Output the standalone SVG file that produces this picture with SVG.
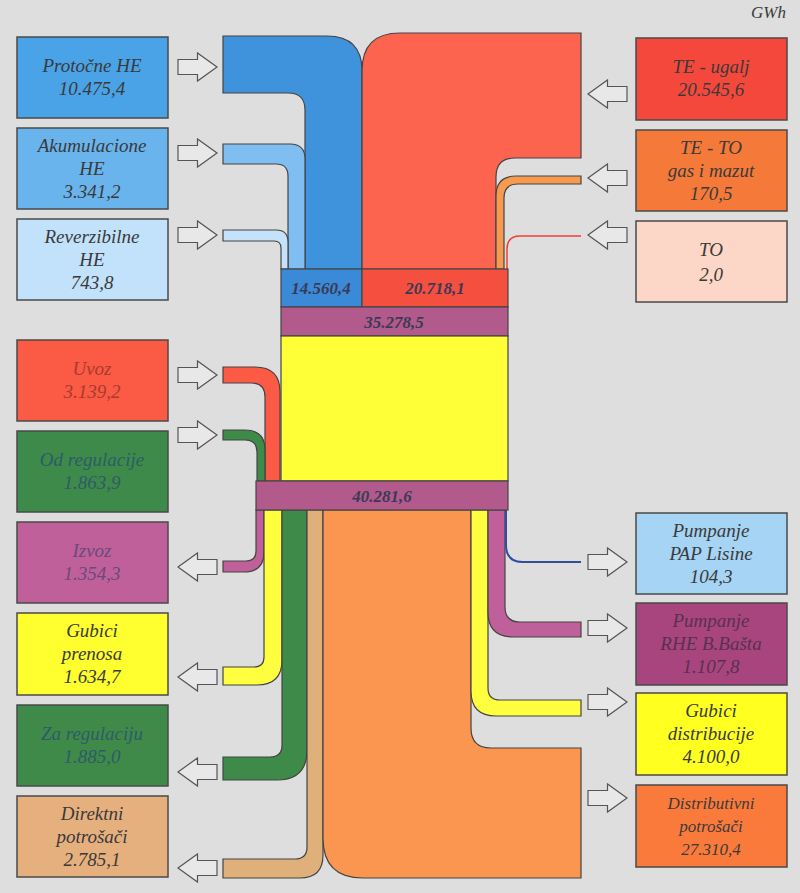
<svg xmlns="http://www.w3.org/2000/svg" width="800" height="893" viewBox="0 0 800 893">
<style>
.bx{stroke:#4a4a4a;stroke-width:1.5}
.fl{stroke:#444;stroke-width:1.2}
.t{font-family:'Liberation Serif','Times New Roman','DejaVu Serif',serif;font-style:italic;font-size:19px;fill:#3a3a3a;text-anchor:middle}
.c{font-family:'Liberation Serif','Times New Roman','DejaVu Serif',serif;font-style:italic;font-weight:bold;font-size:17px;fill:#3a3a55;text-anchor:middle}
.ar{fill:#e8e8e8;stroke:#555;stroke-width:1.2}
</style>
<defs>
<polygon id="arr" class="ar" points="-19.5,-7.5 0,-7.5 0,-14 19.5,0 0,14 0,7.5 -19.5,7.5"/>
</defs>
<rect width="800" height="893" fill="#dedede"/>
<text class="t" x="786" y="18" style="text-anchor:end;font-size:17px">GWh</text>

<g id="connectors">
<path class="fl" fill="#3f93dc" d="M223,36 H327 Q362,36 362,71 V269 H305 V110 Q305,93 288,93 H223 Z"/>
<path class="fl" fill="#80bdf0" d="M223,144 H290 Q305,144 305,159 V269 H288 V176 Q288,164 276,164 H223 Z"/>
<path class="fl" fill="#c5e2fa" d="M223,230 H276 Q288,230 288,242 V269 H281 V248 Q281,241 274,241 H223 Z"/>
<path class="fl" fill="#fc6450" d="M362,269 V71 Q362,33 400,33 H581 V158 H515 Q496,158 496,177 V269 Z"/>
<path class="fl" fill="#f59a50" d="M581,176 H516 Q496,176 496,196 V269 H504 V198 Q504,184 518,184 H581 Z"/>
<path fill="none" stroke="#f04030" stroke-width="1.5" d="M581,236 H520 Q507,236 507,249 V269"/>
<path class="fl" fill="#fc5a44" d="M223,367 H255 Q280,367 280,392 V481 H265 V397 Q265,383 251,383 H223 Z"/>
<path class="fl" fill="#3e8a48" d="M223,430 H245 Q265,430 265,450 V481 H257 V452 Q257,440 245,440 H223 Z"/>
<path class="fl" fill="#c0609a" d="M256,510 H264 V552 Q264,572 244,572 H223 V561 H246 Q256,561 256,551 Z"/>
<path class="fl" fill="#ffff40" d="M264,510 H282 V660 Q282,685 257,685 H223 V667 H254 Q264,667 264,657 Z"/>
<path class="fl" fill="#3e8a48" d="M282,510 H307 V750 Q307,780 277,780 H223 V757 H270 Q282,757 282,745 Z"/>
<path class="fl" fill="#e0b07a" d="M307,510 H323 V855 Q323,878 300,878 H223 V859 H295 Q307,859 307,847 Z"/>
<path class="fl" fill="#fb9650" d="M323,510 H471 V728 Q471,748 491,748 H581 V878 H363 Q323,878 323,838 Z"/>
<path class="fl" fill="#ffff40" d="M471,510 H488 V688 Q488,700 500,700 H581 V716 H496 Q471,716 471,691 Z"/>
<path class="fl" fill="#c0609a" d="M488,510 H505 V607 Q505,622 520,622 H581 V637 H513 Q488,637 488,612 Z"/>
<path fill="none" stroke="#2e4fa0" stroke-width="2" d="M506,510 V545 Q506,562 523,562 H581"/>
<use href="#arr" transform="translate(197.5,67)"/>
<use href="#arr" transform="translate(197.5,153)"/>
<use href="#arr" transform="translate(197.5,235)"/>
<use href="#arr" transform="translate(197.5,375)"/>
<use href="#arr" transform="translate(197.5,435)"/>
<use href="#arr" transform="translate(197.5,567) scale(-1,1)"/>
<use href="#arr" transform="translate(197.5,677) scale(-1,1)"/>
<use href="#arr" transform="translate(197.5,772) scale(-1,1)"/>
<use href="#arr" transform="translate(197.5,868) scale(-1,1)"/>
<use href="#arr" transform="translate(607.5,94) scale(-1,1)"/>
<use href="#arr" transform="translate(607.5,178) scale(-1,1)"/>
<use href="#arr" transform="translate(607.5,235) scale(-1,1)"/>
<use href="#arr" transform="translate(607.5,562)"/>
<use href="#arr" transform="translate(607.5,628)"/>
<use href="#arr" transform="translate(607.5,702)"/>
<use href="#arr" transform="translate(607.5,798)"/>
</g>

<g id="hub">
<rect class="fl" x="281" y="269" width="81" height="38" fill="#3a8ad8"/>
<rect class="fl" x="362" y="269" width="146" height="38" fill="#f5503f"/>
<rect class="fl" x="281" y="307" width="227" height="29" fill="#b25a8c"/>
<rect class="fl" x="281" y="336" width="227" height="145" fill="#ffff38"/>
<rect class="fl" x="256" y="481" width="252" height="29" fill="#b25a8c"/>
<text class="c" x="321" y="294">14.560,4</text>
<text class="c" x="435" y="294">20.718,1</text>
<text class="c" x="394" y="328">35.278,5</text>
<text class="c" x="382" y="502">40.281,6</text>
</g>

<g id="protocne"><rect class="bx" x="17" y="37" width="151" height="81" fill="#4aa3e6"/><text class="t" x="92" y="72">Protočne HE</text><text class="t" x="92" y="95">10.475,4</text></g>
<g id="akumulacione"><rect class="bx" x="17" y="128" width="151" height="81" fill="#6ab4ee"/><text class="t" x="92" y="152">Akumulacione</text><text class="t" x="92" y="175">HE</text><text class="t" x="92" y="198">3.341,2</text></g>
<g id="reverzibilne"><rect class="bx" x="17" y="219" width="151" height="81" fill="#c2e2fb"/><text class="t" x="92" y="243">Reverzibilne</text><text class="t" x="92" y="266">HE</text><text class="t" x="92" y="289">743,8</text></g>
<g id="uvoz"><rect class="bx" x="17" y="340" width="151" height="81" fill="#fb5a44"/><text class="t" x="92" y="375" style="fill:#a83a30">Uvoz</text><text class="t" x="92" y="398" style="fill:#a83a30">3.139,2</text></g>
<g id="odregulacije"><rect class="bx" x="17" y="431" width="151" height="81" fill="#3d8a4a"/><text class="t" x="92" y="466" style="fill:#2f5a68">Od regulacije</text><text class="t" x="92" y="489" style="fill:#2f5a68">1.863,9</text></g>
<g id="izvoz"><rect class="bx" x="17" y="522" width="151" height="81" fill="#c0609a"/><text class="t" x="92" y="557" style="fill:#6a4a7a">Izvoz</text><text class="t" x="92" y="580" style="fill:#6a4a7a">1.354,3</text></g>
<g id="gubiciprenosa"><rect class="bx" x="17" y="613" width="151" height="82" fill="#ffff30"/><text class="t" x="92" y="637">Gubici</text><text class="t" x="92" y="660">prenosa</text><text class="t" x="92" y="683">1.634,7</text></g>
<g id="zaregulaciju"><rect class="bx" x="17" y="705" width="151" height="81" fill="#3f8a48"/><text class="t" x="92" y="740" style="fill:#2f5a68">Za regulaciju</text><text class="t" x="92" y="763" style="fill:#2f5a68">1.885,0</text></g>
<g id="direktni"><rect class="bx" x="17" y="796" width="151" height="81" fill="#e6b07e"/><text class="t" x="92" y="820">Direktni</text><text class="t" x="92" y="843">potrošači</text><text class="t" x="92" y="866">2.785,1</text></g>

<g id="teugalj"><rect class="bx" x="636" y="38" width="151" height="82" fill="#f5483c"/><text class="t" x="711" y="73">TE - ugalj</text><text class="t" x="711" y="96">20.545,6</text></g>
<g id="teto"><rect class="bx" x="636" y="130" width="151" height="81" fill="#f57a3a"/><text class="t" x="711" y="154">TE - TO</text><text class="t" x="711" y="177">gas i mazut</text><text class="t" x="711" y="200">170,5</text></g>
<g id="to"><rect class="bx" x="636" y="221" width="151" height="81" fill="#fcd7c8"/><text class="t" x="711" y="256">TO</text><text class="t" x="711" y="281">2,0</text></g>
<g id="pap"><rect class="bx" x="636" y="513" width="151" height="81" fill="#a6d4f5"/><text class="t" x="711" y="537">Pumpanje</text><text class="t" x="711" y="560">PAP  Lisine</text><text class="t" x="711" y="583">104,3</text></g>
<g id="rhe"><rect class="bx" x="636" y="603" width="151" height="82" fill="#a8457f"/><text class="t" x="711" y="627" style="fill:#5a3050">Pumpanje</text><text class="t" x="711" y="650" style="fill:#5a3050">RHE B.Bašta</text><text class="t" x="711" y="673" style="fill:#5a3050">1.107,8</text></g>
<g id="gubicidistr"><rect class="bx" x="636" y="693" width="151" height="82" fill="#ffff20"/><text class="t" x="711" y="717">Gubici</text><text class="t" x="711" y="740">distribucije</text><text class="t" x="711" y="763">4.100,0</text></g>
<g id="distributivni"><rect class="bx" x="636" y="785" width="151" height="82" fill="#fa7a3c"/><text class="t" x="711" y="809" style="font-size:17px">Distributivni</text><text class="t" x="711" y="832" style="font-size:17px">potrošači</text><text class="t" x="711" y="855" style="font-size:17px">27.310,4</text></g>
</svg>
